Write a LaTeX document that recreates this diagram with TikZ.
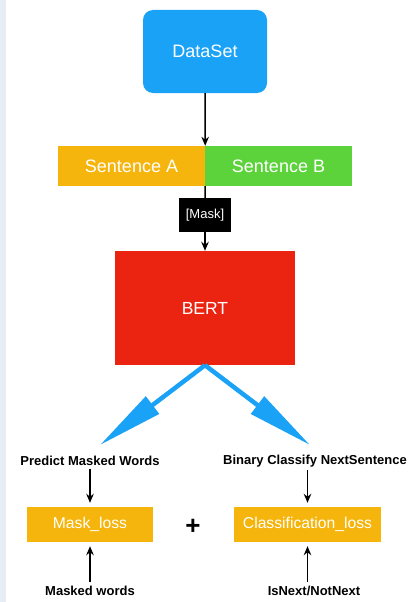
\documentclass[tikz,border=0pt]{standalone}
\usepackage{fontspec}
\setmainfont{Liberation Sans}
\usetikzlibrary{arrows.meta}
\definecolor{dsblue}{HTML}{1AA2F6}
\definecolor{sorange}{HTML}{F5B50C}
\definecolor{sgreen}{HTML}{5CD23B}
\definecolor{bertred}{HTML}{EB2311}
\definecolor{edgeblue}{HTML}{E6EDF4}
\tikzset{
  box/.style={rectangle, inner sep=0pt, text=white, font=\fontsize{18}{20}\selectfont},
  lossbox/.style={box, fill=sorange, minimum height=35pt, font=\fontsize{15.7}{18}\selectfont},
  lbl/.style={inner sep=0pt, font=\bfseries\fontsize{13}{15}\selectfont},
  flow/.style={draw=black, line width=1.5pt, -{Stealth[length=9pt,width=7.5pt]}},
  bigarrow/.style={draw=dsblue, line width=4.5pt, -{Triangle[length=66pt,width=21pt]}}
}
\begin{document}
\begin{tikzpicture}[x=1pt, y=-1pt]
  \useasboundingbox (0,0) rectangle (413,602);
  \fill[white] (0,0) rectangle (413,602);
  % pale strip along the left edge
  \fill[edgeblue] (0,0) rectangle (6,602);

  % input pipeline
  \node[box, fill=dsblue, rounded corners=10pt, minimum width=124pt, minimum height=83pt] (ds) at (205,51.5) {DataSet};
  \node[box, fill=sorange, minimum width=147pt, minimum height=40pt] (sa) at (131.5,166) {Sentence A};
  \node[box, fill=sgreen, minimum width=147pt, minimum height=40pt] (sb) at (278.5,166) {Sentence B};
  \node[box, fill=black, minimum width=52pt, minimum height=34pt, font=\fontsize{13}{15}\selectfont] (mask) at (205,215) {[Mask]};
  \node[box, fill=bertred, minimum width=180pt, minimum height=114pt, font=\fontsize{17.5}{20}\selectfont] (bert) at (205,308) {BERT};

  \draw[flow] (ds.south) -- (sa.north east);
  \draw[black, line width=1.5pt] (sa.south east) -- (mask.north);
  \draw[flow] (mask.south) -- (bert.north);

  % two pre-training heads
  \coordinate (tipL) at (100,445);
  \coordinate (tipR) at (310,445);
  \draw[bigarrow] (bert.south) -- (tipL);
  \draw[bigarrow] (bert.south) -- (tipR);

  \node[lbl] (pm) at (90,461) {Predict Masked Words};
  \node[lbl] (bc) at (315,461) {Binary Classify NextSentence};
  \node[lossbox, minimum width=126pt] (ml) at (90,524.5) {Mask\_loss};
  \node[lossbox, minimum width=147pt] (cl) at (307.5,524.5) {Classification\_loss};
  \node[inner sep=0pt, font=\bfseries\fontsize{26}{28}\selectfont] (plus) at (193,527) {+};
  \node[lbl] (mw) at (90,591) {Masked words};
  \node[lbl] (ia) at (314,591) {IsNext/NotNext};

  \draw[flow, shorten <=3pt, shorten >=4pt] (pm.south) -- (ml.north);
  \draw[flow, shorten <=3pt, shorten >=4pt] (cl.north |- bc.south) -- (cl.north);
  \draw[flow, shorten <=4pt, shorten >=4pt] (mw.north) -- (ml.south);
  \draw[flow, shorten <=4pt, shorten >=4pt] (cl.south |- ia.north) -- (cl.south);
\end{tikzpicture}
\end{document}
